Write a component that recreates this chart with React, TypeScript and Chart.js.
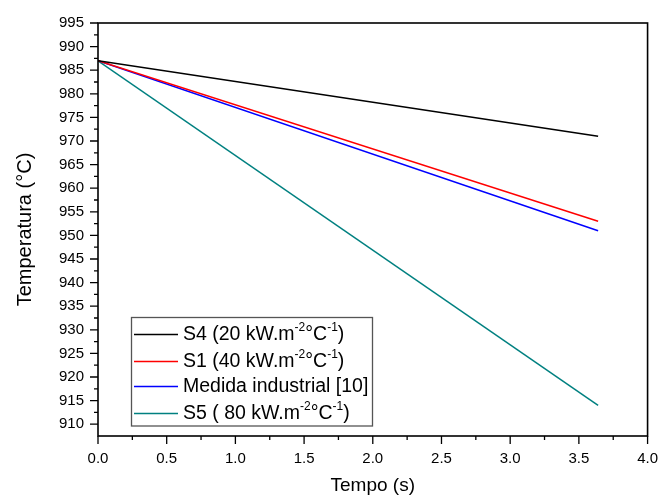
import React, { useEffect, useRef } from 'react';
import { Chart, registerables } from 'chart.js';

Chart.register(...registerables);

// ---- data ----
const timeS = [0, 3.64];
const s4Temp = [987, 971];
const s1Temp = [987, 953];
const medidaTemp = [987, 951];
const s5Temp = [987, 914];

const seriesNames = [
  'S4 (20 kW.m^-2^°C^-1^)',
  'S1 (40 kW.m^-2^°C^-1^)',
  'Medida industrial [10]',
  'S5 ( 80 kW.m^-2^°C^-1^)',
];
const seriesColors = ['#000000', '#ff0000', '#0000ff', '#008080'];

const xTickValues = [0, 0.5, 1.0, 1.5, 2.0, 2.5, 3.0, 3.5, 4.0];
const yTickValues = [910, 915, 920, 925, 930, 935, 940, 945, 950, 955, 960, 965, 970, 975, 980, 985, 990, 995];
const xMin = 0;
const xMax = 4;
const yMin = 907.5;
const yMax = 995;

const xTitle = 'Tempo (s)';
const yTitle = 'Temperatura (°C)';

const FONT = "'Liberation Sans', Arial, Helvetica, sans-serif";

const framePlugin = {
  id: 'frameAndLegend',
  afterDraw(chart: any) {
    const ctx = chart.ctx as CanvasRenderingContext2D;
    const { left, right, top, bottom } = chart.chartArea;
    const xs = chart.scales.x;
    const ys = chart.scales.y;
    ctx.save();
    // frame
    ctx.strokeStyle = '#000';
    ctx.lineWidth = 1.6;
    ctx.strokeRect(left, top, right - left, bottom - top);
    // ticks
    ctx.lineWidth = 1.3;
    ctx.beginPath();
    const majorLen = 8;
    const minorLen = 4;
    xTickValues.forEach((v, i) => {
      const px = xs.getPixelForValue(v);
      ctx.moveTo(px, bottom);
      ctx.lineTo(px, bottom + majorLen);
      if (i < xTickValues.length - 1) {
        const mv = (v + xTickValues[i + 1]) / 2;
        const mpx = xs.getPixelForValue(mv);
        ctx.moveTo(mpx, bottom);
        ctx.lineTo(mpx, bottom + minorLen);
      }
    });
    yTickValues.forEach((v) => {
      const py = ys.getPixelForValue(v);
      ctx.moveTo(left, py);
      ctx.lineTo(left - majorLen, py);
      const mv = v - 2.5;
      if (mv > yMin) {
        const mpy = ys.getPixelForValue(mv);
        ctx.moveTo(left, mpy);
        ctx.lineTo(left - minorLen, mpy);
      }
    });
    ctx.stroke();

    // legend
    const bx = left + 33.5;
    const by = top + 294.5;
    const bw = 241;
    const bh = 108.5;
    ctx.fillStyle = '#fff';
    ctx.fillRect(bx, by, bw, bh);
    ctx.strokeStyle = '#555';
    ctx.lineWidth = 1.3;
    ctx.strokeRect(bx, by, bw, bh);
    const rowYs = [17, 44, 69, 96];
    seriesNames.forEach((name, i) => {
      const ry = by + rowYs[i];
      ctx.strokeStyle = seriesColors[i];
      ctx.lineWidth = 1.5;
      ctx.beginPath();
      ctx.moveTo(bx + 2.5, ry);
      ctx.lineTo(bx + 46.5, ry);
      ctx.stroke();
      ctx.fillStyle = '#000';
      ctx.textBaseline = 'middle';
      ctx.textAlign = 'left';
      let tx = bx + 51.5;
      const parts = name.split('^');
      parts.forEach((p, j) => {
        if (!p) return;
        if (j % 2 === 1) {
          ctx.font = `12px ${FONT}`;
          ctx.fillText(p, tx, ry - 7);
        } else {
          ctx.font = `19.5px ${FONT}`;
          ctx.fillText(p, tx, ry);
        }
        tx += ctx.measureText(p).width;
      });
    });
    ctx.restore();
  },
};

export default function App() {
  const canvasRef = useRef<HTMLCanvasElement | null>(null);

  useEffect(() => {
    const canvas = canvasRef.current;
    if (!canvas) return;
    const seriesData = [s4Temp, s1Temp, medidaTemp, s5Temp];
    const chart = new Chart(canvas, {
      type: 'line',
      data: {
        datasets: seriesData.map((vals, i) => ({
          label: seriesNames[i].replace(/\^/g, ''),
          data: timeS.map((t, k) => ({ x: t, y: vals[k] })),
          borderColor: seriesColors[i],
          backgroundColor: seriesColors[i],
          borderWidth: 1.5,
          pointRadius: 0,
          tension: 0,
          fill: false,
        })),
      },
      options: {
        responsive: false,
        animation: false,
        devicePixelRatio: 1,
        layout: { padding: { left: 0, right: 11, top: 19, bottom: 0 } },
        plugins: {
          legend: { display: false },
          tooltip: { enabled: false },
        },
        scales: {
          x: {
            type: 'linear',
            min: xMin,
            max: xMax,
            grid: { display: false, drawTicks: false },
            border: { display: false },
            afterBuildTicks: (scale: any) => {
              scale.ticks = xTickValues.map((v) => ({ value: v }));
            },
            afterFit: (scale: any) => {
              scale.height = 61;
            },
            ticks: {
              padding: 14,
              color: '#000',
              maxRotation: 0,
              autoSkip: false,
              font: { family: FONT, size: 15 },
              callback: (v: any) => Number(v).toFixed(1),
            },
            title: {
              display: true,
              text: xTitle,
              color: '#000',
              font: { family: FONT, size: 19 },
              padding: { top: 0, bottom: 0 },
            },
          },
          y: {
            type: 'linear',
            min: yMin,
            max: yMax,
            grid: { display: false, drawTicks: false },
            border: { display: false },
            afterBuildTicks: (scale: any) => {
              scale.ticks = yTickValues.map((v) => ({ value: v }));
            },
            afterFit: (scale: any) => {
              scale.width = 98;
            },
            ticks: {
              padding: 14,
              color: '#000',
              autoSkip: false,
              font: { family: FONT, size: 15 },
              callback: (v: any) => String(v),
            },
            title: {
              display: true,
              text: yTitle,
              color: '#000',
              font: { family: FONT, size: 20 },
              padding: { top: 13, bottom: 0 },
            },
          },
        },
      },
      plugins: [framePlugin],
    });
    return () => chart.destroy();
  }, []);

  return (
    <div style={{ position: 'absolute', left: 0, top: 0, width: 672, height: 497, background: '#fff' }}>
      <canvas ref={canvasRef} width={672} height={497} style={{ display: 'block' }} />
    </div>
  );
}
